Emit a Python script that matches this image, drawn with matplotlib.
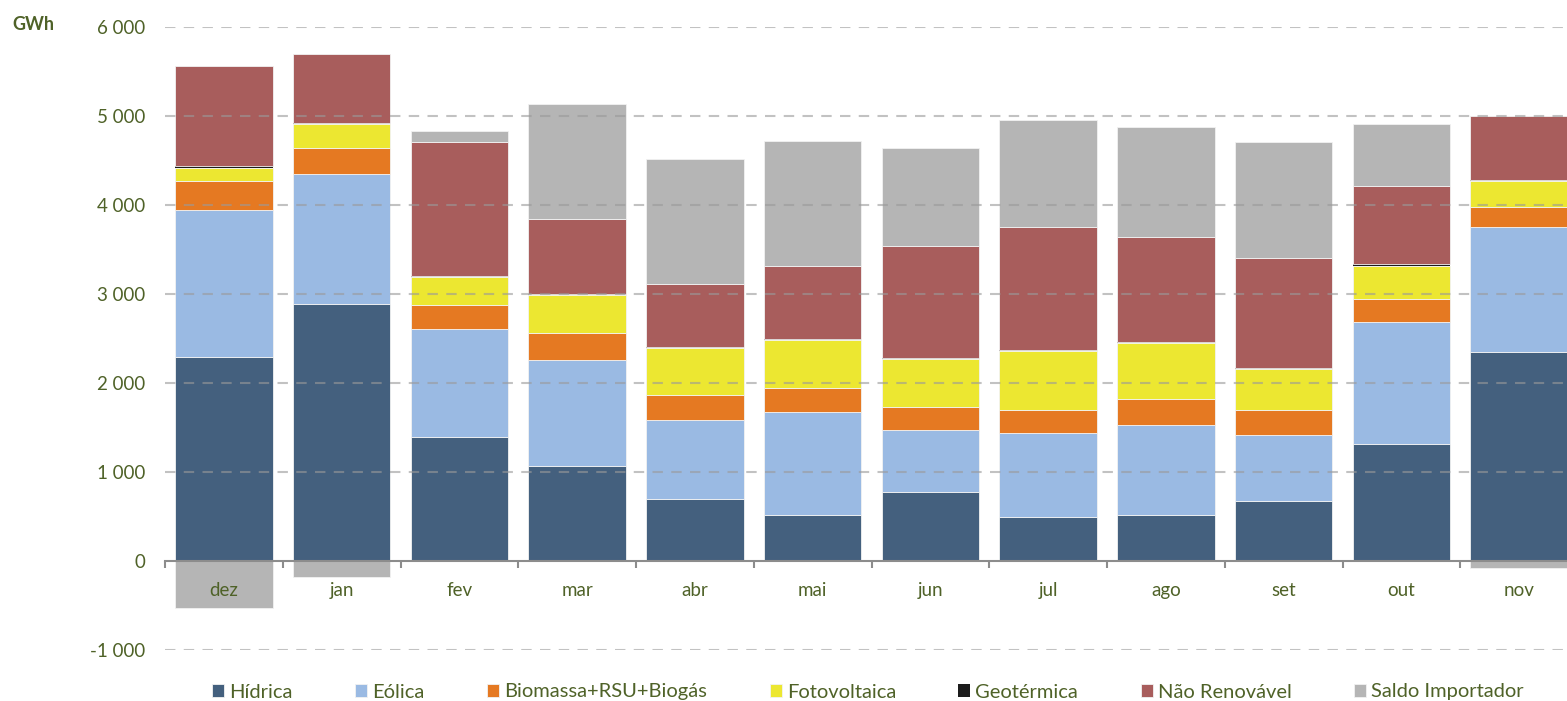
import numpy as np
import matplotlib.pyplot as plt
from matplotlib.ticker import FuncFormatter, FixedLocator

# months and monthly values (GWh)
months = ['dez', 'jan', 'fev', 'mar', 'abr', 'mai', 'jun', 'jul', 'ago', 'set', 'out', 'nov']

hidrica = [2292, 2888, 1393, 1067, 697, 517, 775, 494, 517, 674, 1315, 2348]
eolica = [1648, 1457, 1210, 1191, 887, 1157, 697, 944, 1011, 742, 1367, 1401]
biomassa = [330, 299, 273, 304, 281, 270, 258, 259, 292, 281, 262, 229]
fotovoltaica = [149, 263, 318, 423, 531, 535, 540, 663, 630, 461, 374, 292]
geotermica = [14, 12, 12, 12, 12, 12, 12, 12, 12, 12, 20, 12]
nao_renovavel = [1124, 775, 1502, 846, 704, 824, 1258, 1381, 1179, 1235, 880, 722]
saldo = [-525, -176, 127, 1288, 1408, 1400, 1101, 1202, 1236, 1304, 690, -75]

series_names = ['Hídrica', 'Eólica', 'Biomassa+RSU+Biogás', 'Fotovoltaica',
                'Geotérmica', 'Não Renovável', 'Saldo Importador']
series_vals = [hidrica, eolica, biomassa, fotovoltaica, geotermica, nao_renovavel, saldo]
colors = ['#44607E', '#9ABAE3', '#E57922', '#ECE731', '#1C1C1C', '#A85D5C', '#B5B5B5']

txt_color = '#4F6228'
plt.rcParams['font.family'] = ['Lato', 'DejaVu Sans']

fig = plt.figure(figsize=(15.67, 7.01), dpi=100)
ax = fig.add_axes([165 / 1567, 51 / 701, 1413 / 1567, 623 / 701])

x = np.arange(len(months))
pos_base = np.zeros(len(months))
neg_base = np.zeros(len(months))
handles = []
for name, vals, col in zip(series_names, series_vals, colors):
    v = np.array(vals, dtype=float)
    bottom = np.where(v >= 0, pos_base, neg_base)
    ec = col if name == 'Geotérmica' else '#F2F2F2'
    lw = 0 if name == 'Geotérmica' else 0.6
    b = ax.bar(x, v, 0.83, bottom=bottom, color=col, edgecolor=ec, linewidth=lw,
               label=name, zorder=2)
    handles.append(b)
    pos_base = pos_base + np.where(v >= 0, v, 0)
    neg_base = neg_base + np.where(v < 0, v, 0)

ax.set_xlim(-0.5, 11.5)
ax.set_ylim(-1000, 6000)
ax.set_yticks(np.arange(-1000, 6001, 1000))
ax.yaxis.set_major_formatter(FuncFormatter(lambda v, p: f'{int(v):,}'.replace(',', ' ')))

# dashed gridlines drawn over the bars
for yv in np.arange(-1000, 6001, 1000):
    if yv != 0:
        ax.axhline(yv, color='#9A9A9A', lw=1.5, ls=(0, (5, 4)), alpha=0.6, zorder=3)

for s in ['top', 'right', 'left']:
    ax.spines[s].set_visible(False)
ax.spines['bottom'].set_position(('data', 0))
ax.spines['bottom'].set_color('#8C8C8C')
ax.spines['bottom'].set_linewidth(1.5)
ax.spines['bottom'].set_zorder(4)

ax.set_xticks(x)
ax.set_xticklabels(months)
ax.xaxis.set_minor_locator(FixedLocator(np.arange(-0.5, 12, 1)))
ax.tick_params(axis='x', which='major', length=0, pad=15, labelsize=13.5, labelcolor=txt_color)
ax.tick_params(axis='x', which='minor', length=5, width=1.5, color='#8C8C8C', direction='out')
ax.tick_params(axis='y', length=0, pad=14, labelsize=13.5, labelcolor=txt_color)
ax.xaxis.set_zorder(5)

fig.text(12 / 1567, 1 - 25 / 701, 'GWh', color=txt_color, fontsize=13,
         fontweight='bold', va='center', ha='left')

fig.legend(handles=handles, labels=series_names, loc='center',
           bbox_to_anchor=(0.554, 1 - 692 / 701), ncol=7, frameon=False, fontsize=14.5,
           handlelength=0.6, handleheight=0.6, handletextpad=0.25, columnspacing=3.1,
           labelcolor=txt_color)

fig.savefig('out.png', dpi=100)
